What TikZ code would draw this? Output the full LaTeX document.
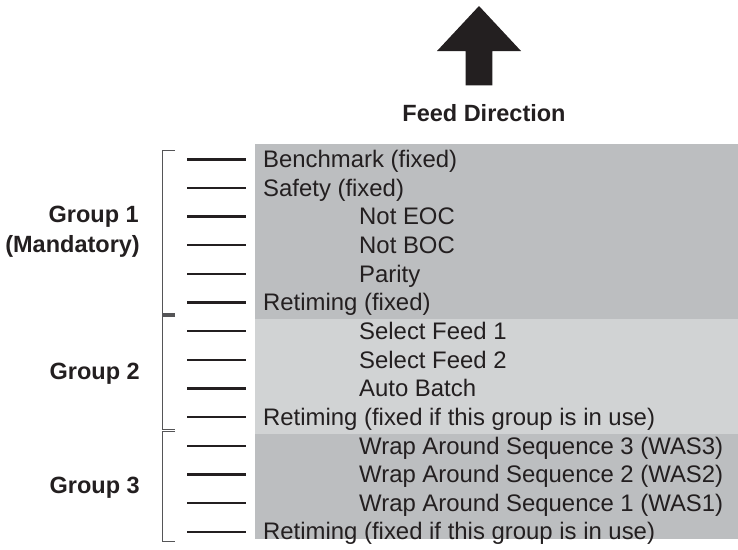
\documentclass[tikz,border=0pt]{standalone}
\usepackage{fontspec}
\setmainfont{Liberation Sans}
\definecolor{ink}{HTML}{231F20}
\definecolor{bandA}{HTML}{BCBEC0}
\definecolor{bandB}{HTML}{D1D3D4}
\definecolor{brk}{HTML}{555557}
\begin{document}
\begin{tikzpicture}[x=1pt,y=-1pt,
  item/.style={anchor=base west, inner sep=0pt, font=\fontsize{23.9}{28}\selectfont, text=ink},
  grp/.style={anchor=base east, inner sep=0pt, font=\fontsize{23.5}{28}\selectfont\bfseries, text=ink},
  tickline/.style={line width=2.4pt, draw=ink},
  bracket/.style={line width=1.2pt, draw=brk}]
\useasboundingbox (0,0) rectangle (738,549);
% bands
\fill[bandA] (255,144) rectangle (738,319);
\fill[bandB] (255,319) rectangle (738,434);
\fill[bandA] (255,434) rectangle (738,539);
% arrow
\fill[ink] (479,6) -- (521,51) -- (492.3,51) -- (492.3,85.3) -- (465.7,85.3) -- (465.7,51) -- (437,51) -- cycle;
\node[grp, anchor=base] (feed) at (484,121.7) {Feed Direction};
% rows
\foreach \i/\x/\t in {0/263/{Benchmark (fixed)},
                      1/263/{Safety (fixed)},
                      2/359/{Not EOC},
                      3/359/{Not BOC},
                      4/359/{Parity},
                      5/263/{Retiming (fixed)},
                      6/359/{Select Feed 1},
                      7/359/{Select Feed 2},
                      8/359/{Auto Batch},
                      9/263/{Retiming (fixed if this group is in use)},
                      10/359/{Wrap Around Sequence 3 (WAS3)},
                      11/359/{Wrap Around Sequence 2 (WAS2)},
                      12/359/{Wrap Around Sequence 1 (WAS1)},
                      13/263/{Retiming (fixed if this group is in use)}}{
  \pgfmathsetmacro\yy{159.3+28.65*\i}
  \coordinate (la\i) at (187,\yy);
  \coordinate (lb\i) at (246,\yy);
  \draw[tickline] (la\i) -- (lb\i);
  \node[item] (t\i) at (\x,\yy+8.2) {\t};
}
% brackets
\coordinate (b1a) at (175,150.7);
\coordinate (b1b) at (162.7,150.7);
\coordinate (b1c) at (162.7,314);
\coordinate (b1d) at (175,314);
\draw[bracket] (b1a) -- (b1b) -- (b1c) -- (b1d);
\coordinate (b2a) at (175,316);
\coordinate (b2b) at (162.7,316);
\coordinate (b2c) at (162.7,429.5);
\coordinate (b2d) at (175,429.5);
\draw[bracket] (b2a) -- (b2b) -- (b2c) -- (b2d);
\coordinate (b3a) at (175,431.5);
\coordinate (b3b) at (162.7,431.5);
\coordinate (b3c) at (162.7,541.7);
\coordinate (b3d) at (175,541.7);
\draw[bracket] (b3a) -- (b3b) -- (b3c) -- (b3d);
% group labels
\node[grp] (g1a) at (139,222.3) {Group 1};
\node[grp] (g1b) at (140,252.3) {(Mandatory)};
\node[grp] (g2) at (140,379.5) {Group 2};
\node[grp] (g3) at (140,493.3) {Group 3};
\end{tikzpicture}
\end{document}
